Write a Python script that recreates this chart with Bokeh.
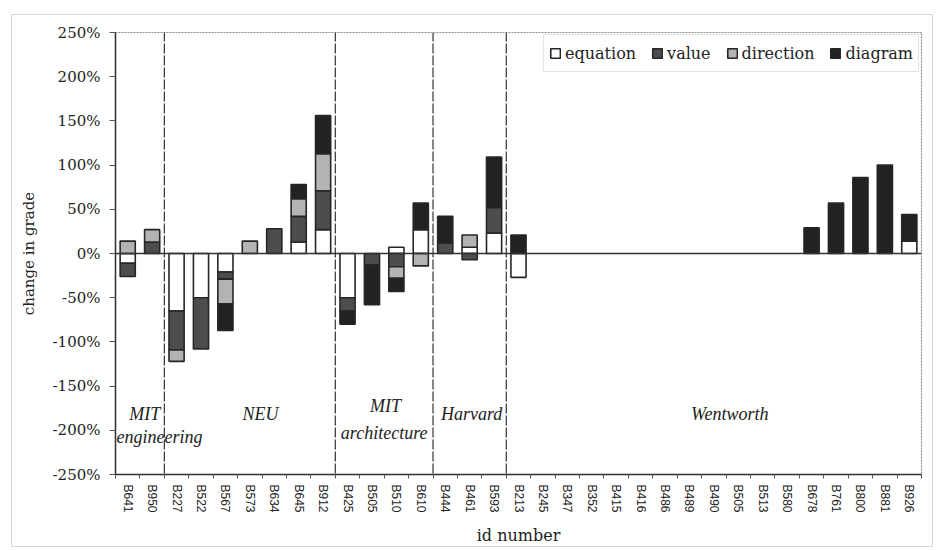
from bokeh.plotting import figure
from bokeh.models import (Range1d, FixedTicker, Span, Legend, LegendItem, BoxAnnotation,
                          ColumnDataSource, Label)
from bokeh.embed import file_html
from bokeh.resources import INLINE

# ---------------- data ----------------
ids = ["B641", "B950",
       "B227", "B522", "B567", "B573", "B634", "B645", "B912",
       "B425", "B505", "B510", "B610",
       "B444", "B461", "B593",
       "B213", "B245", "B347", "B352", "B415", "B416", "B486", "B489", "B490",
       "B505", "B513", "B580", "B678", "B761", "B800", "B881", "B926"]

equation = [-11, 0,
            -65, -50, -21, 0, 0, 13, 27,
            -50, 0, 7, 27,
            0, 7, 23,
            -27, 0, 0, 0, 0, 0, 0, 0, 0, 0, 0, 0, 0, 0, 0, 0, 14]
value_ = [-15, 13,
          -44, -58, -8, 0, 28, 29, 44,
          -15, -13, -15, 0,
          12, -7, 29,
          0, 0, 0, 0, 0, 0, 0, 0, 0, 0, 0, 0, 0, 0, 0, 0, 0]
direction = [14, 14,
             -13, 0, -28, 14, 0, 20, 42,
             0, 0, -13, -14,
             0, 14, 0,
             0, 0, 0, 0, 0, 0, 0, 0, 0, 0, 0, 0, 0, 0, 0, 0, 0]
diagram = [0, 0,
           0, 0, -30, 0, 0, 16, 43,
           -15, -45, -15, 30,
           30, 0, 57,
           21, 0, 0, 0, 0, 0, 0, 0, 0, 0, 0, 0, 29, 57, 86, 100, 30]

series_names = ["equation", "value", "direction", "diagram"]
series_colors = ["#ffffff", "#4d4d4d", "#b3b3b3", "#222222"]

groups = ["MIT engineering", "NEU", "MIT architecture", "Harvard", "Wentworth"]
group_sizes = [2, 7, 4, 3, 17]

y_ticks = [-250, -200, -150, -100, -50, 0, 50, 100, 150, 200, 250]

# ---------------- figure ----------------
n = len(ids)
p = figure(width=922, height=533, output_backend="svg", toolbar_location=None,
           x_range=Range1d(0, n), y_range=Range1d(-250, 250),
           min_border_left=103, min_border_right=13, min_border_top=17,
           min_border_bottom=74)
p.margin = (14, 0, 0, 11)
p.styles = {"border": "1px solid #d6d6d6"}
p.background_fill_color = "white"
p.border_fill_color = "white"
p.grid.visible = False
p.outline_line_color = "#8c8c8c"
p.outline_line_width = 1.2
p.outline_line_dash = "2 1"

serif = "DejaVu Serif"

# stacked bars
comps = [equation, value_, direction, diagram]
pos = [0.0] * n
neg = [0.0] * n
renderers = []
for comp, name, col in zip(comps, series_names, series_colors):
    xs, bs, ts = [], [], []
    for i, v in enumerate(comp):
        if v == 0:
            continue
        if v > 0:
            b = pos[i]; t = b + v; pos[i] = t
        else:
            b = neg[i]; t = b + v; neg[i] = t
        xs.append(i + 0.5); bs.append(b); ts.append(t)
    src = ColumnDataSource(dict(x=xs, bottom=bs, top=ts))
    r = p.vbar(x="x", bottom="bottom", top="top", width=0.62, source=src,
               fill_color=col, line_color="#262626", line_width=1.6)
    renderers.append(r)

# zero line
p.add_layout(Span(location=0, dimension="width", line_color="#333333", line_width=1.6))

# group separators
bounds = []
acc = 0
for s in group_sizes[:-1]:
    acc += s
    bounds.append(acc)
for b in bounds:
    p.add_layout(BoxAnnotation(left=b, right=b, top=250, bottom=-250,
                               fill_alpha=0, line_alpha=1, line_color="#333333",
                               line_width=1.2, line_dash="5 3 1 3"))

# group labels
label_x = [1.2, 1.8, 5.94, 11.05, 11.0, 14.58, 25.15]
label_y = [-182, -208, -182, -173, -203, -182, -182]
label_t = ["MIT", "engineering", "NEU", "MIT", "architecture", "Harvard", "Wentworth"]
for lx, ly, lt in zip(label_x, label_y, label_t):
    p.add_layout(Label(x=lx, y=ly, text=lt, text_font="Liberation Serif",
                       text_font_style="italic", text_font_size="18px",
                       text_color="#222222", text_align="center", text_baseline="middle"))

# axes
yax = p.yaxis[0]
yax.ticker = FixedTicker(ticks=y_ticks)
yax.major_label_overrides = {t: f"{t}%" for t in y_ticks}
yax.major_label_text_font = serif
yax.major_label_text_font_size = "15px"
yax.major_label_text_color = "#222222"
yax.major_tick_out = 6
yax.major_tick_in = 0
yax.minor_tick_line_color = None
yax.axis_line_color = "#333333"
yax.axis_line_width = 1.5
yax.major_tick_line_color = "#555555"
yax.major_label_standoff = 9
yax.axis_label = "change in grade"
yax.axis_label_text_font = serif
yax.axis_label_text_font_style = "normal"
yax.axis_label_text_font_size = "15px"
yax.axis_label_text_color = "#222222"
yax.axis_label_standoff = 12

xax = p.xaxis[0]
centers = [i + 0.5 for i in range(n)]
xax.ticker = FixedTicker(ticks=centers, minor_ticks=list(range(n + 1)))
xax.major_label_overrides = {c: ids[i] for i, c in enumerate(centers)}
xax.major_label_orientation = "vertical"
xax.major_label_text_font = "Liberation Sans"
xax.major_label_text_font_size = "12px"
xax.major_label_text_color = "#222222"
xax.major_tick_line_color = None
xax.major_tick_out = 0
xax.major_tick_in = 0
xax.minor_tick_out = 4
xax.minor_tick_in = 0
xax.minor_tick_line_color = "#555555"
xax.axis_line_color = "#333333"
xax.axis_line_width = 1.5
xax.major_label_standoff = 6
xax.axis_label = "id number"
xax.axis_label_text_font = serif
xax.axis_label_text_font_style = "normal"
xax.axis_label_text_font_size = "16px"
xax.axis_label_text_color = "#222222"
xax.axis_label_standoff = 10

# legend
legend = Legend(items=[LegendItem(label=nm, renderers=[r]) for nm, r in zip(series_names, renderers)],
                location="top_right", orientation="horizontal",
                label_text_font=serif, label_text_font_size="16px", label_text_color="#222222",
                glyph_width=12, glyph_height=12, label_standoff=4, spacing=15,
                padding=5, margin=2, border_line_color="#c8c8c8", border_line_width=1,
                background_fill_alpha=1, label_height=26)
p.add_layout(legend)

open("out.html", "w").write(file_html(p, INLINE))
